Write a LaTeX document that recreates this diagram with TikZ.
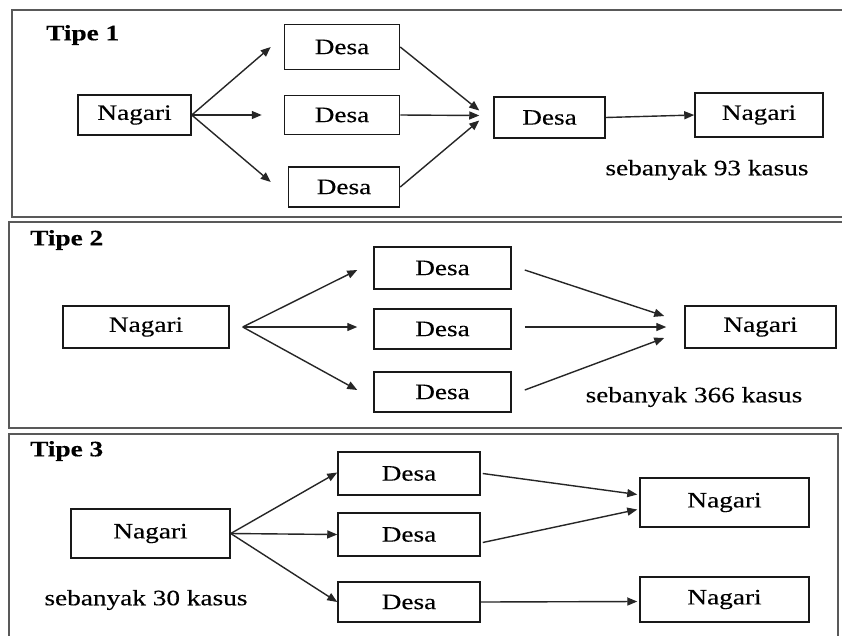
\documentclass[tikz,border=0pt]{standalone}
\usepackage{fontspec}
\setmainfont{Liberation Serif}[FakeStretch=1.24,FakeBold=0.3]
\usetikzlibrary{arrows.meta,calc}
\tikzset{
  box/.style={draw=black!90, line width=1.5pt, inner sep=0pt, font=\fontsize{22}{26}\selectfont},
  arr/.style={-{Triangle[length=10pt,width=8pt]}, line width=1.4pt, draw=black!85},
  frame/.style={draw=black!65, line width=2.2pt},
  tipe/.style={anchor=west, inner sep=0pt, font=\fontsize{22}{26}\selectfont\bfseries},
  note/.style={inner sep=0pt, font=\fontsize{22}{26}\selectfont}
}
\begin{document}
\begin{tikzpicture}[x=1pt,y=-1pt]
\useasboundingbox (0,0) rectangle (842,635);
\fill[white] (0,0) rectangle (842,635);
% frames
\draw[frame] (12,10) rectangle (846,217);
\draw[frame] (9,222) rectangle (846,428);
\draw[frame] (9,434) rectangle (838,642);

% ---------- Tipe 1 ----------
\node[tipe] (t1) at (46,35) {Tipe 1};
\node[box, minimum width=113pt, minimum height=40pt] (n1a) at (134.5,115) {Nagari};
\node[box, minimum width=115pt, minimum height=45pt] (d1a) at (342,47) {Desa};
\node[box, minimum width=115pt, minimum height=39pt] (d1b) at (342,115) {Desa};
\node[box, minimum width=111pt, minimum height=40pt] (d1c) at (344,187) {Desa};
\node[box, minimum width=111pt, minimum height=41pt] (d1d) at (549.5,117.5) {Desa};
\node[box, minimum width=128pt, minimum height=44pt] (n1b) at (759,115) {Nagari};
\node[note] (k1) at (707,170) {sebanyak 93 kasus};
\coordinate (e1a) at ($(d1a.west)+(-13,0)$);
\coordinate (e1b) at ($(d1b.west)+(-22,0)$);
\coordinate (e1c) at ($(d1c.west)+(-17,-5)$);
\draw[arr] (n1a.east) -- (e1a);
\draw[arr] (n1a.east) -- (e1b);
\draw[arr] (n1a.east) -- (e1c);
\coordinate (c1a) at ($(d1d.west)+(-14,-7)$);
\coordinate (c1b) at ($(d1d.west)+(-14,-2)$);
\coordinate (c1c) at ($(d1d.west)+(-14,3)$);
\draw[arr] (d1a.east) -- (c1a);
\draw[arr] (d1b.east) -- (c1b);
\draw[arr] (d1c.east) -- (c1c);
\draw[arr] (d1d.east) -- (n1b.west);

% ---------- Tipe 2 ----------
\node[tipe] (t2) at (30,240) {Tipe 2};
\node[box, minimum width=166pt, minimum height=42pt] (n2a) at (146,327) {Nagari};
\node[box, minimum width=137pt, minimum height=42pt] (d2a) at (442.5,268) {Desa};
\node[box, minimum width=137pt, minimum height=40pt] (d2b) at (442.5,329) {Desa};
\node[box, minimum width=137pt, minimum height=40pt] (d2c) at (442.5,392) {Desa};
\node[box, minimum width=151pt, minimum height=42pt] (n2b) at (760.5,327) {Nagari};
\node[note] (k2) at (694,397) {sebanyak 366 kasus};
\coordinate (f2) at ($(n2a.east)+(13,0)$);
\draw[arr] (f2) -- ($(d2a.west)+(-16,2)$);
\draw[arr] (f2) -- ($(d2b.west)+(-16,-2)$);
\draw[arr] (f2) -- ($(d2c.west)+(-16,-2)$);
\draw[arr] ($(d2a.east)+(13,2)$) -- ($(n2b.west)+(-20,-11)$);
\draw[arr] ($(d2b.east)+(13,-2)$) -- ($(n2b.west)+(-18,0)$);
\draw[arr] ($(d2c.east)+(13,-2)$) -- ($(n2b.west)+(-20,11)$);

% ---------- Tipe 3 ----------
\node[tipe] (t3) at (30,451) {Tipe 3};
\node[box, minimum width=159pt, minimum height=49pt] (n3a) at (150.5,533.5) {Nagari};
\node[box, minimum width=142pt, minimum height=43pt] (d3a) at (409,473.5) {Desa};
\node[box, minimum width=142pt, minimum height=43pt] (d3b) at (409,534.5) {Desa};
\node[box, minimum width=142pt, minimum height=40pt] (d3c) at (409,602) {Desa};
\node[box, minimum width=169pt, minimum height=49pt] (n3b) at (724.5,502.5) {Nagari};
\node[box, minimum width=169pt, minimum height=45pt] (n3c) at (724.5,599.5) {Nagari};
\node[note] (k3) at (146,600) {sebanyak 30 kasus};
\draw[arr] (n3a.east) -- ($(d3a.west)+(0,-1)$);
\draw[arr] (n3a.east) -- (d3b.west);
\draw[arr] (n3a.east) -- (d3c.west);
\draw[arr] ($(d3a.east)+(2,0)$) -- ($(n3b.west)+(-2,-8)$);
\draw[arr] ($(d3b.east)+(2,8)$) -- ($(n3b.west)+(-2,7)$);
\draw[arr] (d3c.east) -- ($(n3c.west)+(-2,2)$);
\end{tikzpicture}
\end{document}
